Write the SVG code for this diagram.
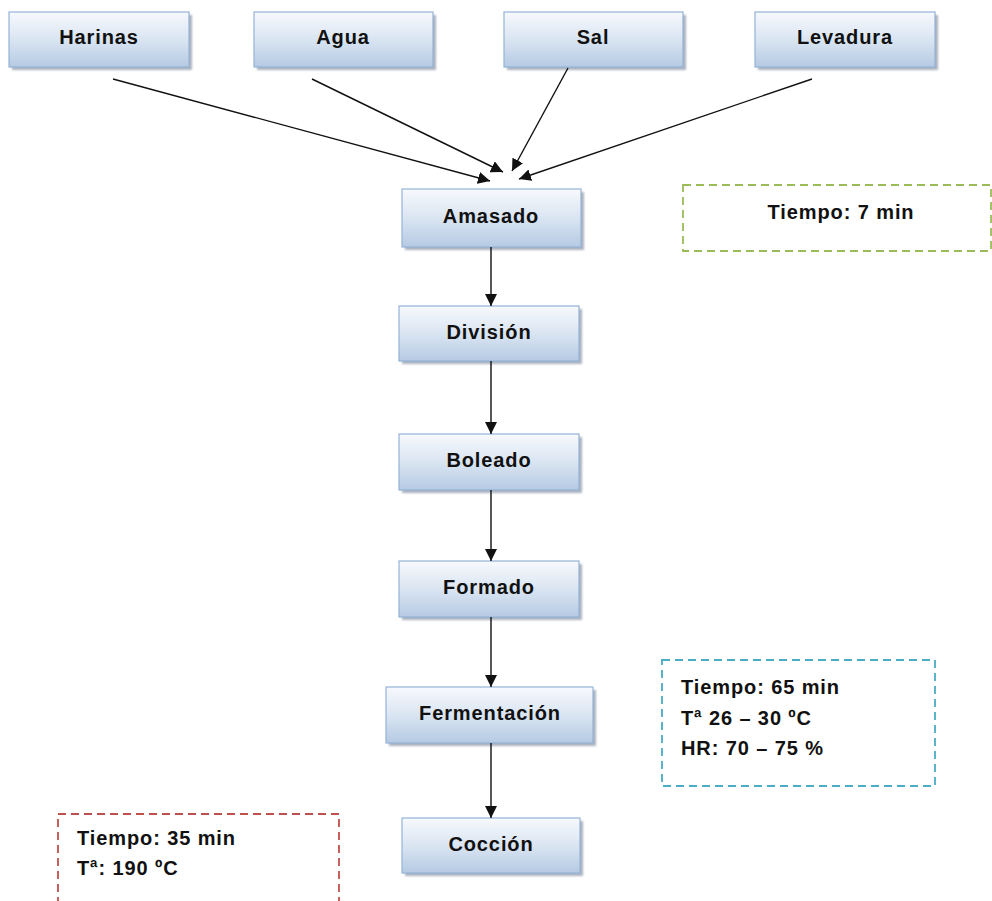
<svg xmlns="http://www.w3.org/2000/svg" width="992" height="901" viewBox="0 0 992 901">
<style>
.box{fill:url(#g);stroke:#95b3d7;stroke-width:1.2}
.sh{fill:#8e99a8;opacity:0.75;filter:url(#blur)}
.lbl{font-family:"Liberation Sans",Arial,sans-serif;font-weight:bold;font-size:20px;letter-spacing:0.9px;fill:#111;text-anchor:middle}
.note{font-family:"Liberation Sans",Arial,sans-serif;font-weight:bold;font-size:20px;letter-spacing:0.9px;fill:#111}
.con{stroke:#111;stroke-width:1.4;fill:none;marker-end:url(#ah)}
.dash{fill:none;stroke-width:1.8;stroke-dasharray:8 5}
</style>
<defs>
<linearGradient id="g" x1="0" y1="0" x2="0" y2="1">
<stop offset="0" stop-color="#f7f9fd"/>
<stop offset="0.5" stop-color="#dae5f2"/>
<stop offset="1" stop-color="#b5cae3"/>
</linearGradient>
<filter id="blur" x="-5%" y="-10%" width="110%" height="120%"><feGaussianBlur stdDeviation="0.8"/></filter>
<marker id="ah" viewBox="0 0 10 10" refX="10" refY="5" markerWidth="12" markerHeight="12" markerUnits="userSpaceOnUse" orient="auto">
<path d="M0,0 L10,5 L0,10 z" fill="#111"/>
</marker>
</defs>
<rect width="992" height="901" fill="#fff"/>

<g id="harinas"><rect class="sh" x="12" y="15" width="180" height="55"/><rect class="box" x="9" y="12" width="180" height="55"/><text class="lbl" x="99" y="44">Harinas</text></g>
<g id="agua"><rect class="sh" x="257" y="15" width="179" height="55"/><rect class="box" x="254" y="12" width="179" height="55"/><text class="lbl" x="343" y="44">Agua</text></g>
<g id="sal"><rect class="sh" x="507" y="15" width="179" height="55"/><rect class="box" x="504" y="12" width="179" height="55"/><text class="lbl" x="593" y="44">Sal</text></g>
<g id="levadura"><rect class="sh" x="758" y="15" width="180" height="55"/><rect class="box" x="755" y="12" width="180" height="55"/><text class="lbl" x="845" y="44">Levadura</text></g>

<g id="amasado"><rect class="sh" x="405" y="192" width="179" height="58"/><rect class="box" x="402" y="189" width="179" height="58"/><text class="lbl" x="491" y="223">Amasado</text></g>
<g id="division"><rect class="sh" x="402" y="309" width="180" height="55"/><rect class="box" x="399" y="306" width="180" height="55"/><text class="lbl" x="489" y="339">División</text></g>
<g id="boleado"><rect class="sh" x="402" y="437" width="180" height="56"/><rect class="box" x="399" y="434" width="180" height="56"/><text class="lbl" x="489" y="467">Boleado</text></g>
<g id="formado"><rect class="sh" x="402" y="564" width="180" height="56"/><rect class="box" x="399" y="561" width="180" height="56"/><text class="lbl" x="489" y="594">Formado</text></g>
<g id="fermentacion"><rect class="sh" x="389" y="690" width="207" height="56"/><rect class="box" x="386" y="687" width="207" height="56"/><text class="lbl" x="490" y="720">Fermentación</text></g>
<g id="coccion"><rect class="sh" x="405" y="821" width="178" height="55"/><rect class="box" x="402" y="818" width="178" height="55"/><text class="lbl" x="491" y="851">Cocción</text></g>

<g id="note-amasado"><rect class="dash" x="683" y="185" width="308" height="66" stroke="#9bbb59"/><text class="note" x="841" y="219" text-anchor="middle">Tiempo: 7 min</text></g>
<g id="note-fermentacion"><rect class="dash" x="662" y="660" width="273" height="126" stroke="#4bacc6"/><text class="note" x="681" y="694">Tiempo: 65 min</text><text class="note" x="681" y="725">Tª 26 – 30 ºC</text><text class="note" x="681" y="755">HR: 70 – 75 %</text></g>
<g id="note-coccion"><path class="dash" d="M58,905 V814 H339 V905" stroke="#c0504d"/><text class="note" x="77" y="845">Tiempo: 35 min</text><text class="note" x="77" y="875">Tª: 190 ºC</text></g>

<g id="connectors">
<line class="con" x1="113" y1="79" x2="490" y2="181"/>
<line class="con" x1="312" y1="79" x2="503" y2="172"/>
<line class="con" x1="568" y1="68" x2="512" y2="171"/>
<line class="con" x1="812" y1="79" x2="519" y2="179"/>
<line class="con" x1="491" y1="247" x2="491" y2="306"/>
<line class="con" x1="491" y1="361" x2="491" y2="434"/>
<line class="con" x1="491" y1="490" x2="491" y2="561"/>
<line class="con" x1="491" y1="617" x2="491" y2="687"/>
<line class="con" x1="491" y1="743" x2="491" y2="818"/>
</g>
</svg>
